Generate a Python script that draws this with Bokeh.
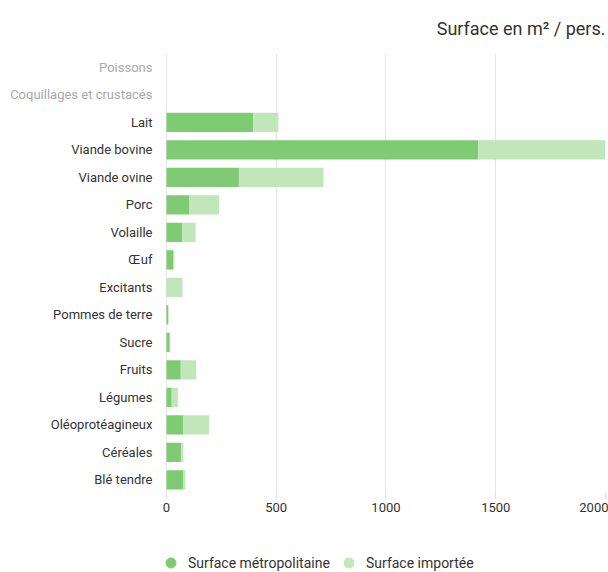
from bokeh.plotting import figure
from bokeh.models import (ColumnDataSource, FactorRange, Range1d, Legend,
                          LegendItem, FixedTicker)
from bokeh.layouts import column
from bokeh.core.properties import value
from bokeh.embed import file_html
from bokeh.resources import INLINE

categories = ["Poissons", "Coquillages et crustacés", "Lait", "Viande bovine", "Viande ovine",
              "Porc", "Volaille", "Œuf", "Excitants", "Pommes de terre", "Sucre", "Fruits",
              "Légumes", "Oléoprotéagineux", "Céréales", "Blé tendre"]
metro = [0, 0, 395, 1420, 330, 105, 73, 30, 0, 8, 15, 65, 24, 77, 66, 76]
imported = [0, 0, 115, 590, 385, 135, 60, 6, 73, 2, 2, 70, 28, 117, 11, 10]
series_names = ["Surface métropolitaine", "Surface importée"]
x_ticks = [0, 500, 1000, 1500, 2000]
title_text = "Surface en m² / pers."

FONT = "Roboto"
C_METRO = "#7ecb74"
C_IMP = "#c1e6ba"
DARK = "#333333"
GREY = "#aaaaaa"

# main chart: the x range extends to the left so the category texts live inside the frame
p = figure(width=608, height=518,
           y_range=FactorRange(factors=list(reversed(categories)), range_padding=0),
           x_range=Range1d(-756, 2000),
           title=title_text, y_axis_location=None,
           output_backend="svg", toolbar_location=None,
           min_border_left=0, min_border_right=3, min_border_top=53, min_border_bottom=25)

src = ColumnDataSource(dict(cat=categories, metro=metro, imported=imported))
p.hbar_stack(["metro", "imported"], y="cat", height=0.7, color=[C_METRO, C_IMP],
             line_color=None, source=src)

label_colors = [DARK if (m + i) > 0 else GREY for m, i in zip(metro, imported)]
lsrc = ColumnDataSource(dict(x=[0] * len(categories), cat=categories, col=label_colors))
p.text(x="x", y="cat", text="cat", source=lsrc, x_offset=-14,
       text_align="right", text_baseline="middle", text_color="col",
       text_font=value(FONT), text_font_size="13px")

p.outline_line_color = None
p.ygrid.grid_line_color = None
p.xgrid.grid_line_color = "#e6e6e6"
p.xgrid.ticker = FixedTicker(ticks=x_ticks)
p.xaxis.ticker = FixedTicker(ticks=x_ticks)
p.xaxis.axis_line_color = None
p.xaxis.major_tick_line_color = "#dddddd"
p.xaxis.major_tick_out = 5
p.xaxis.major_tick_in = 0
p.xaxis.minor_tick_line_color = None
p.xaxis.major_label_standoff = 4
p.xaxis.major_label_text_font = FONT
p.xaxis.major_label_text_font_size = "13px"
p.xaxis.major_label_text_color = DARK

p.title.align = "right"
p.title.text_font = FONT
p.title.text_font_size = "18px"
p.title.text_font_style = "normal"
p.title.text_color = DARK
p.title.standoff = 30

# legend strip: the marker renderers only supply the legend dots
# (their single placeholder point lies outside the strip's visible range)
lf = figure(width=608, height=54, x_range=Range1d(0, 1), y_range=Range1d(0, 1),
            x_axis_location=None, y_axis_location=None,
            output_backend="svg", toolbar_location=None, min_border=0)
lf.outline_line_color = None
lf.grid.visible = False
dummy = ColumnDataSource(dict(x=[-5], y=[-5]))
r1 = lf.scatter(x="x", y="y", source=dummy, marker="circle", color=C_METRO)
r2 = lf.scatter(x="x", y="y", source=dummy, marker="circle", color=C_IMP)
for r, name, lx in [(r1, series_names[0], 158), (r2, series_names[1], 336)]:
    lg = Legend(items=[LegendItem(label=name, renderers=[r])],
                location=(lx, -3), orientation="horizontal",
                glyph_width=25, glyph_height=25, label_standoff=5,
                padding=0, margin=0, border_line_color=None, background_fill_alpha=0,
                label_text_font=FONT, label_text_font_size="14px", label_text_color=DARK)
    lf.add_layout(lg)

layout = column(p, lf, spacing=0)
open("out.html", "w").write(file_html(layout, INLINE))
